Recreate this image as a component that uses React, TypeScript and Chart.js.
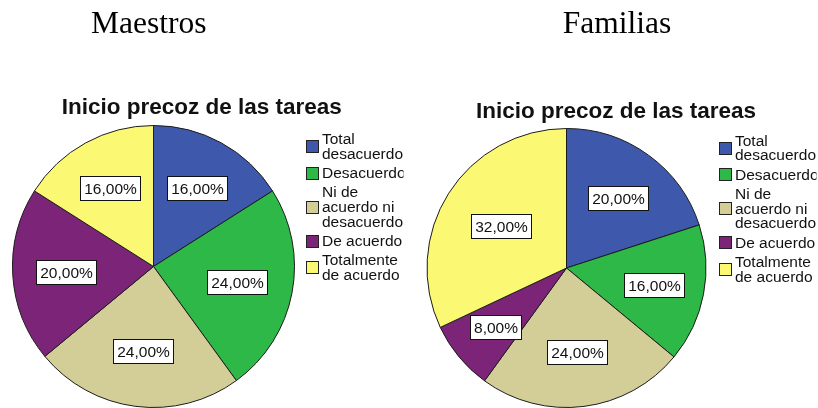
import React, { useEffect, useRef } from "react";
import { Chart, registerables } from "chart.js";

Chart.register(...registerables);

// ---- data ----
const CATEGORY_NAMES: string[] = [
  "Total desacuerdo",
  "Desacuerdo",
  "Ni de acuerdo ni desacuerdo",
  "De acuerdo",
  "Totalmente de acuerdo",
];
const LEGEND_LINES: string[][] = [
  ["Total", "desacuerdo"],
  ["Desacuerdo"],
  ["Ni de", "acuerdo ni", "desacuerdo"],
  ["De acuerdo"],
  ["Totalmente", "de acuerdo"],
];
const MAESTROS: number[] = [16, 24, 24, 20, 16];
const FAMILIAS: number[] = [20, 16, 24, 8, 32];
const COLORS: string[] = ["#3E58AC", "#2EB848", "#D3CE97", "#7C2478", "#FBF873"];
const CHART_TITLE = "Inicio precoz de las tareas";
const GROUPS: string[] = ["Maestros", "Familias"];

const SANS = '"Liberation Sans", Arial, sans-serif';
const SERIF = '"Liberation Serif", "Times New Roman", serif';

const fmt = (v: number) => v.toFixed(2).replace(".", ",") + "%";

const decorPlugin = {
  id: "decor",
  afterDraw(chart: any, _args: any, opts: any) {
    const ctx: CanvasRenderingContext2D = chart.ctx;
    const meta = chart.getDatasetMeta(0);
    const values: number[] = chart.data.datasets[0].data;
    ctx.save();

    // heading (serif)
    ctx.fillStyle = "#000";
    ctx.textBaseline = "alphabetic";
    ctx.textAlign = "left";
    ctx.font = `31.5px ${SERIF}`;
    ctx.fillText(opts.heading, opts.headingX, opts.headingY);

    // chart title
    ctx.font = `bold 22.5px ${SANS}`;
    ctx.textAlign = "center";
    ctx.fillStyle = "#111";
    ctx.fillText(opts.title, opts.titleX, opts.titleY);

    // value labels
    ctx.font = `15.5px ${SANS}`;
    meta.data.forEach((arc: any, i: number) => {
      const p = arc.getProps(["x", "y", "startAngle", "endAngle", "outerRadius"], true);
      const theta = p.endAngle - p.startAngle;
      const mid = (p.startAngle + p.endAngle) / 2;
      const d = theta > 0 ? (4 * p.outerRadius * Math.sin(theta / 2)) / (3 * theta) : 0;
      const lx = p.x + Math.cos(mid) * d;
      const ly = p.y + Math.sin(mid) * d;
      const text = fmt(values[i]);
      const w = Math.round(ctx.measureText(text).width + 7);
      const h = 24;
      const bx = Math.round(lx - w / 2) + 0.5;
      const by = Math.round(ly - h / 2) + 0.5;
      ctx.fillStyle = "#fff";
      ctx.fillRect(bx, by, w, h);
      ctx.strokeStyle = "#111";
      ctx.lineWidth = 1;
      ctx.strokeRect(bx, by, w, h);
      ctx.fillStyle = "#111";
      ctx.textAlign = "center";
      ctx.textBaseline = "alphabetic";
      ctx.fillText(text, bx + w / 2, by + h / 2 + 5.6);
    });

    // legend (clipped at the right like the original)
    ctx.save();
    ctx.beginPath();
    ctx.rect(0, 0, opts.clipX, chart.height);
    ctx.clip();
    const lineH = 14.7;
    const itemStep = 19.3;
    let base = opts.legendY;
    ctx.textAlign = "left";
    ctx.textBaseline = "alphabetic";
    LEGEND_LINES.forEach((lines, i) => {
      const first = base;
      lines.forEach((ln, j) => {
        ctx.fillStyle = "#111";
        ctx.fillText(ln, opts.legendTextX, base + j * lineH);
      });
      const last = base + (lines.length - 1) * lineH;
      const midY = (first + last) / 2 - 5.5;
      const bx = Math.round(opts.legendBoxX) + 0.5;
      const by = Math.round(midY - 6) + 0.5;
      ctx.fillStyle = COLORS[i];
      ctx.fillRect(bx, by, 12, 12);
      ctx.strokeStyle = "#222";
      ctx.strokeRect(bx, by, 12, 12);
      base = last + itemStep;
    });
    ctx.restore();

    ctx.restore();
  },
};

type PieProps = {
  values: number[];
  heading: string;
  width: number;
  left: number;
  padding: { left: number; right: number; top: number; bottom: number };
  decor: any;
};

function PieChart({ values, heading, width, left, padding, decor }: PieProps) {
  const ref = useRef<HTMLCanvasElement | null>(null);
  useEffect(() => {
    if (!ref.current) return;
    const chart = new Chart(ref.current, {
      type: "pie",
      data: {
        labels: CATEGORY_NAMES,
        datasets: [
          {
            data: values,
            backgroundColor: COLORS,
            borderColor: "#1c1c1c",
            borderWidth: 1,
            hoverOffset: 0,
            hoverBorderWidth: 0,
          },
        ],
      },
      options: {
        responsive: false,
        animation: false,
        events: [],
        layout: { padding },
        plugins: {
          legend: { display: false },
          tooltip: { enabled: false },
          title: { display: false },
          // @ts-ignore
          decor: { heading, title: CHART_TITLE, ...decor },
        },
      } as any,
      plugins: [decorPlugin as any],
    });
    return () => chart.destroy();
  }, []);
  return (
    <canvas
      ref={ref}
      width={width}
      height={408}
      style={{ position: "absolute", left, top: 0, width, height: 408, display: "block" }}
    />
  );
}

export default function App() {
  return (
    <div
      style={{
        position: "fixed",
        left: 0,
        top: 0,
        width: 818,
        height: 408,
        background: "#fff",
        overflow: "hidden",
      }}
    >
      <PieChart
        values={MAESTROS}
        heading={GROUPS[0]}
        width={405}
        left={0}
        padding={{ left: 12, right: 110, top: 125, bottom: 0 }}
        decor={{
          headingX: 91,
          headingY: 33.3,
          titleX: 201.7,
          titleY: 114.3,
          legendBoxX: 306,
          legendTextX: 322,
          legendY: 144,
          clipX: 403.5,
        }}
      />
      <PieChart
        values={FAMILIAS}
        heading={GROUPS[1]}
        width={413}
        left={405}
        padding={{ left: 21.5, right: 111.5, top: 128, bottom: 0 }}
        decor={{
          headingX: 157.7,
          headingY: 33.3,
          titleX: 211,
          titleY: 117.7,
          legendBoxX: 313.7,
          legendTextX: 330,
          legendY: 145.7,
          clipX: 411.5,
        }}
      />
    </div>
  );
}
